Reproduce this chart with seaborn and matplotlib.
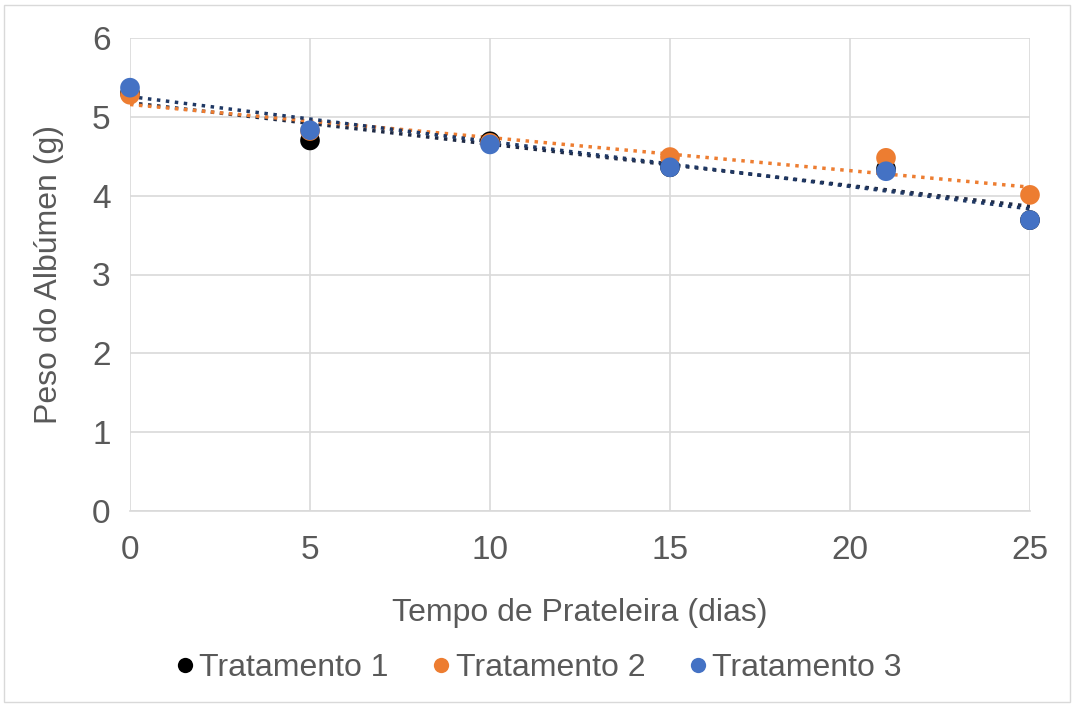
import numpy as np
import pandas as pd
import matplotlib
matplotlib.use("Agg")
import matplotlib.pyplot as plt
from matplotlib.lines import Line2D
from matplotlib.patches import Rectangle
import seaborn as sns

# Shelf-life days and albumen weight per treatment
dias = [0, 5, 10, 15, 21, 25]
tratamento_1 = [5.30, 4.70, 4.69, 4.36, 4.34, 3.69]
tratamento_2 = [5.28, 4.82, 4.67, 4.49, 4.48, 4.01]
tratamento_3 = [5.37, 4.83, 4.65, 4.36, 4.31, 3.69]
series_nomes = ["Tratamento 1", "Tratamento 2", "Tratamento 3"]
cores = ["#000000", "#ED7D31", "#4472C4"]
cores_tendencia = ["#1F2A44", "#ED7D31", "#1F3864"]

sns.set_theme(style="white")
plt.rcParams["font.family"] = ["Liberation Sans", "DejaVu Sans"]
texto = "#595959"

fig = plt.figure(figsize=(10.74, 7.04), dpi=100)
ax = fig.add_axes([130 / 1074, 1 - 511 / 704, 900 / 1074, 473 / 704])

df = pd.DataFrame({
    "dias": dias * 3,
    "peso": tratamento_1 + tratamento_2 + tratamento_3,
    "serie": sum([[n] * len(dias) for n in series_nomes], []),
})

# Linear trendlines (dotted)
for nome, cor in zip(series_nomes, cores_tendencia):
    sub = df[df["serie"] == nome]
    sns.regplot(data=sub, x="dias", y="peso", ax=ax, scatter=False, ci=None,
                truncate=True,
                line_kws=dict(color=cor, lw=2.5, linestyle=(0, (1, 1.6)), zorder=3))

# Data points
sns.scatterplot(data=df, x="dias", y="peso", hue="serie", palette=cores,
                hue_order=series_nomes, s=200, edgecolor="none", ax=ax,
                legend=False, zorder=4, clip_on=False)

ax.set_xlim(0, 25)
ax.set_ylim(0, 6)
ax.set_xticks([0, 5, 10, 15, 20, 25])
ax.set_yticks(range(0, 7))
ax.grid(True, color="#D9D9D9", lw=1.2)
ax.set_axisbelow(True)
for sp in ["top", "right", "left"]:
    ax.spines[sp].set_visible(False)
ax.spines["bottom"].set_color("#D9D9D9")
ax.spines["bottom"].set_linewidth(1.2)
ax.tick_params(axis="both", length=0, labelsize=24, colors=texto)
ax.tick_params(axis="x", pad=17)
ax.tick_params(axis="y", pad=14)
ax.set_xlabel("Tempo de Prateleira (dias)", fontsize=23, color=texto, labelpad=23)
ax.set_ylabel("Peso do Albúmen (g)", fontsize=23, color=texto, labelpad=20)

handles = [Line2D([], [], marker="o", linestyle="none", markersize=11,
                  markerfacecolor=c, markeredgecolor="none") for c in cores]
fig.legend(handles, series_nomes, loc="center", bbox_to_anchor=(0.5, 1 - 668 / 704),
           ncol=3, frameon=False, fontsize=23, labelcolor=texto,
           handletextpad=0.05, columnspacing=1.25, handlelength=0.8)

fig.patches.append(Rectangle((4 / 1074, 2 / 704), 1066 / 1074, 697 / 704,
                             transform=fig.transFigure, fill=False,
                             edgecolor="#D9D9D9", lw=1))

fig.savefig("out.png", dpi=100, facecolor="white")
